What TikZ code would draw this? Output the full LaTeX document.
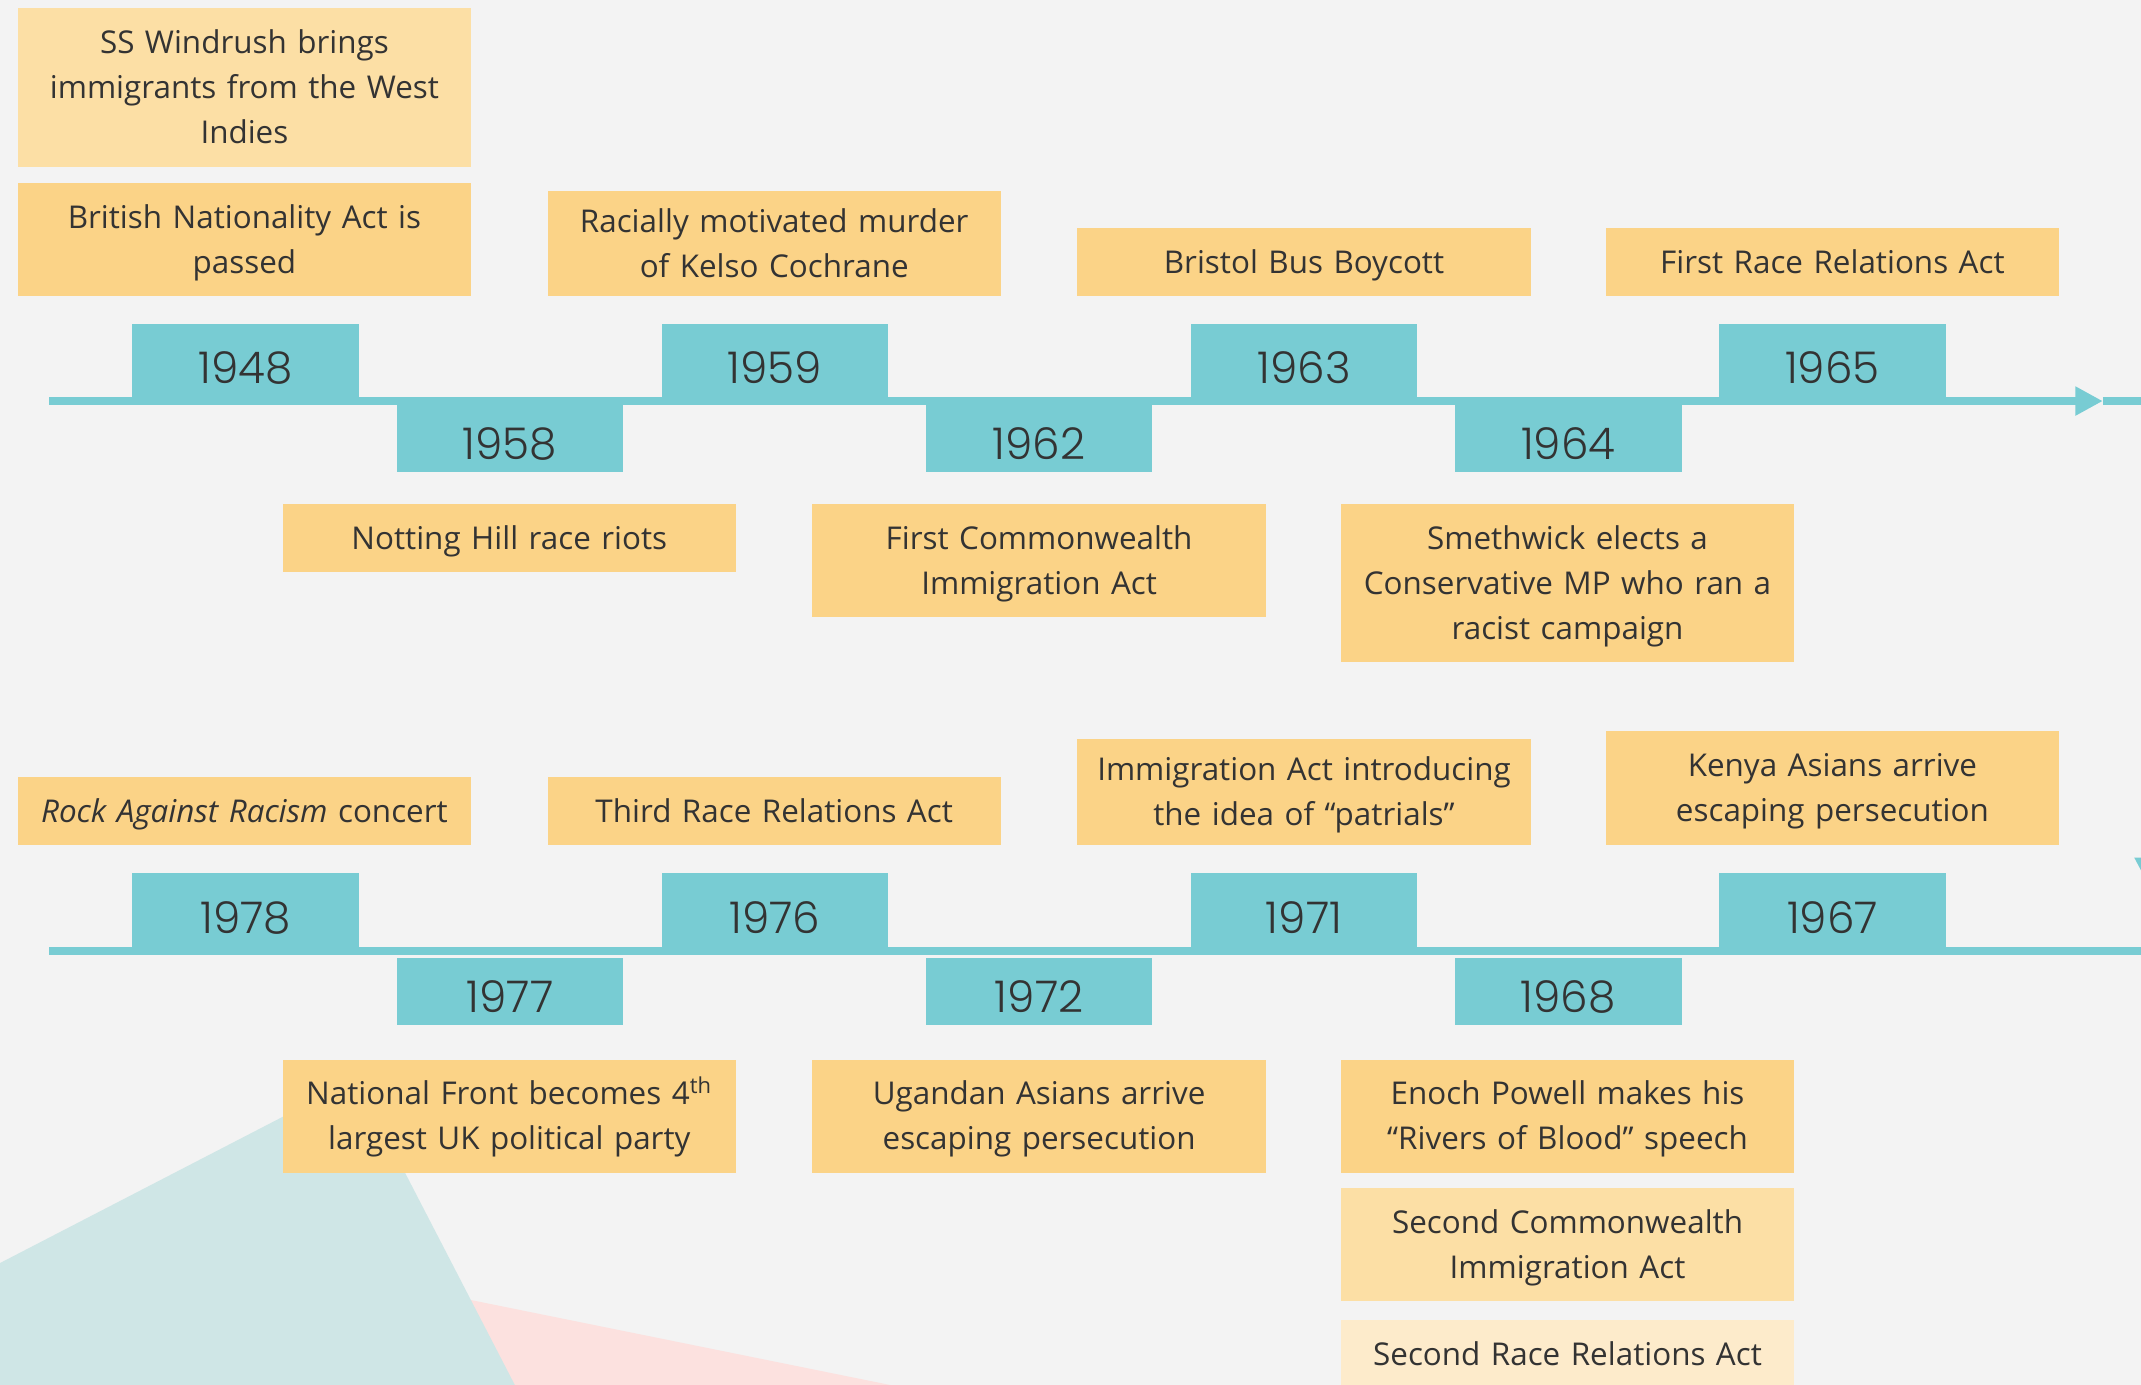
\documentclass[tikz,border=0pt]{standalone}
\usepackage{fontspec}
\setmainfont{Open Sans}
\IfFontExistsTF{Poppins Light}{\newfontfamily\yearfont{Poppins Light}}{\newfontfamily\yearfont{Poppins}}
\usetikzlibrary{arrows.meta}

\definecolor{paper}{HTML}{F3F3F3}
\definecolor{lineteal}{HTML}{78CCD3}
\definecolor{evt}{HTML}{FBD387}
\definecolor{evtlight}{HTML}{FCDFA5}
\definecolor{evtpale}{HTML}{FDEBCB}
\definecolor{ink}{HTML}{333333}
\definecolor{bgteal}{HTML}{CFE6E6}
\definecolor{bgpink}{HTML}{FCE1DF}

\begin{document}
\begin{tikzpicture}[x=0.5pt, y=-0.5pt,
		yearup/.style = {fill=lineteal, minimum width=83pt, minimum height=29.85pt, inner sep=0pt, text=ink, text height=14pt, text depth=0pt, font=\yearfont\fontsize{16}{18}\selectfont},
		yeardown/.style = {yearup, minimum height=24.65pt, text height=15.5pt},
		event/.style = {fill=evt, minimum width=166pt, minimum height=25pt, text width=160pt, inner sep=0pt, align=center, text=ink, text height=8.2pt, text depth=0pt, font=\fontsize{11.5}{16.5}\selectfont},
		twolines/.style = {text depth=16.5pt},
		threelines/.style = {text depth=33pt},
		timeline/.style = {draw=lineteal, line width=3pt}]
		\useasboundingbox (0,0) rectangle (1568,1014);
		\clip (0,0) rectangle (1568,1014);
		\fill[paper] (0,0) rectangle (1568,1014);
		\fill[bgpink] (300,943) -- (680,1020) -- (370,1020) -- cycle;
		\fill[bgteal] (0,925) -- (261,790) -- (380,1020) -- (0,1020) -- cycle;

		% first row
		\coordinate (topstart) at (36,293.7);
		\coordinate (toptip) at (1540,293.7);
		\coordinate (topend) at (1580,293.7);
		\draw[timeline, -{Triangle[length=10pt,width=10pt]}] (topstart) -- (toptip);
		\draw[timeline] (toptip) -- (topend);
		\fill[lineteal] (1563,628) -- (1595,628) -- (1580,660) -- cycle;

		\node (y1948) [yearup] at (180,266.85) {1948};
		\node (y1959) [yearup] at (567.5,266.85) {1959};
		\node (y1963) [yearup] at (955,266.85) {1963};
		\node (y1965) [yearup] at (1342,266.85) {1965};
		\node (y1958) [yeardown] at (373.5,321.35) {1958};
		\node (y1962) [yeardown] at (761,321.35) {1962};
		\node (y1964) [yeardown] at (1148.5,321.35) {1964};

		\node (windrush) [event, threelines, fill=evtlight, minimum height=58pt] at (179,64) {SS Windrush brings\\immigrants from the West\\Indies};
		\node (nationality) [event, twolines, minimum height=41.5pt] at (179,175.5) {British Nationality Act is\\passed};
		\node (cochrane) [event, twolines, minimum height=38.5pt] at (567,178.5) {Racially motivated murder\\of Kelso Cochrane};
		\node (boycott) [event] at (955,192) {Bristol Bus Boycott};
		\node (firstrace) [event] at (1342,192) {First Race Relations Act};
		\node (notting) [event] at (373,394) {Notting Hill race riots};
		\node (firstcw) [event, twolines, minimum height=41.5pt] at (761,410.5) {First Commonwealth\\Immigration Act};
		\node (smethwick) [event, threelines, minimum height=58pt] at (1148,427) {Smethwick elects a\\Conservative MP who ran a\\racist campaign};

		% second row
		\coordinate (botstart) at (36,696.5);
		\coordinate (botend) at (1580,696.5);
		\draw[timeline] (botstart) -- (botend);

		\node (y1978) [yearup] at (180,669.5) {1978};
		\node (y1976) [yearup] at (567.5,669.5) {1976};
		\node (y1971) [yearup] at (955,669.5) {1971};
		\node (y1967) [yearup] at (1342,669.5) {1967};
		\node (y1977) [yeardown] at (373.5,726) {1977};
		\node (y1972) [yeardown] at (761,726) {1972};
		\node (y1968) [yeardown] at (1148.5,726) {1968};

		\node (rock) [event] at (179,594) {\textit{Rock Against Racism} concert};
		\node (thirdrace) [event] at (567,594) {Third Race Relations Act};
		\node (patrials) [event, twolines, minimum height=39pt] at (955,580) {Immigration Act introducing\\the idea of “patrials”};
		\node (kenya) [event, twolines, minimum height=42pt] at (1342,577) {Kenya Asians arrive\\escaping persecution};
		\node (natfront) [event, twolines, minimum height=41.5pt] at (373,817.5) {National Front becomes 4\textsuperscript{th}\\largest UK political party};
		\node (uganda) [event, twolines, minimum height=41.5pt] at (761,817.5) {Ugandan Asians arrive\\escaping persecution};
		\node (powell) [event, twolines, minimum height=41.5pt] at (1148,817.5) {Enoch Powell makes his\\“Rivers of Blood” speech};
		\node (secondcw) [event, twolines, fill=evtlight, minimum height=41.5pt] at (1148,911.5) {Second Commonwealth\\Immigration Act};
		\node (secondrace) [event, fill=evtpale] at (1148,992) {Second Race Relations Act};
	\end{tikzpicture}
\end{document}
